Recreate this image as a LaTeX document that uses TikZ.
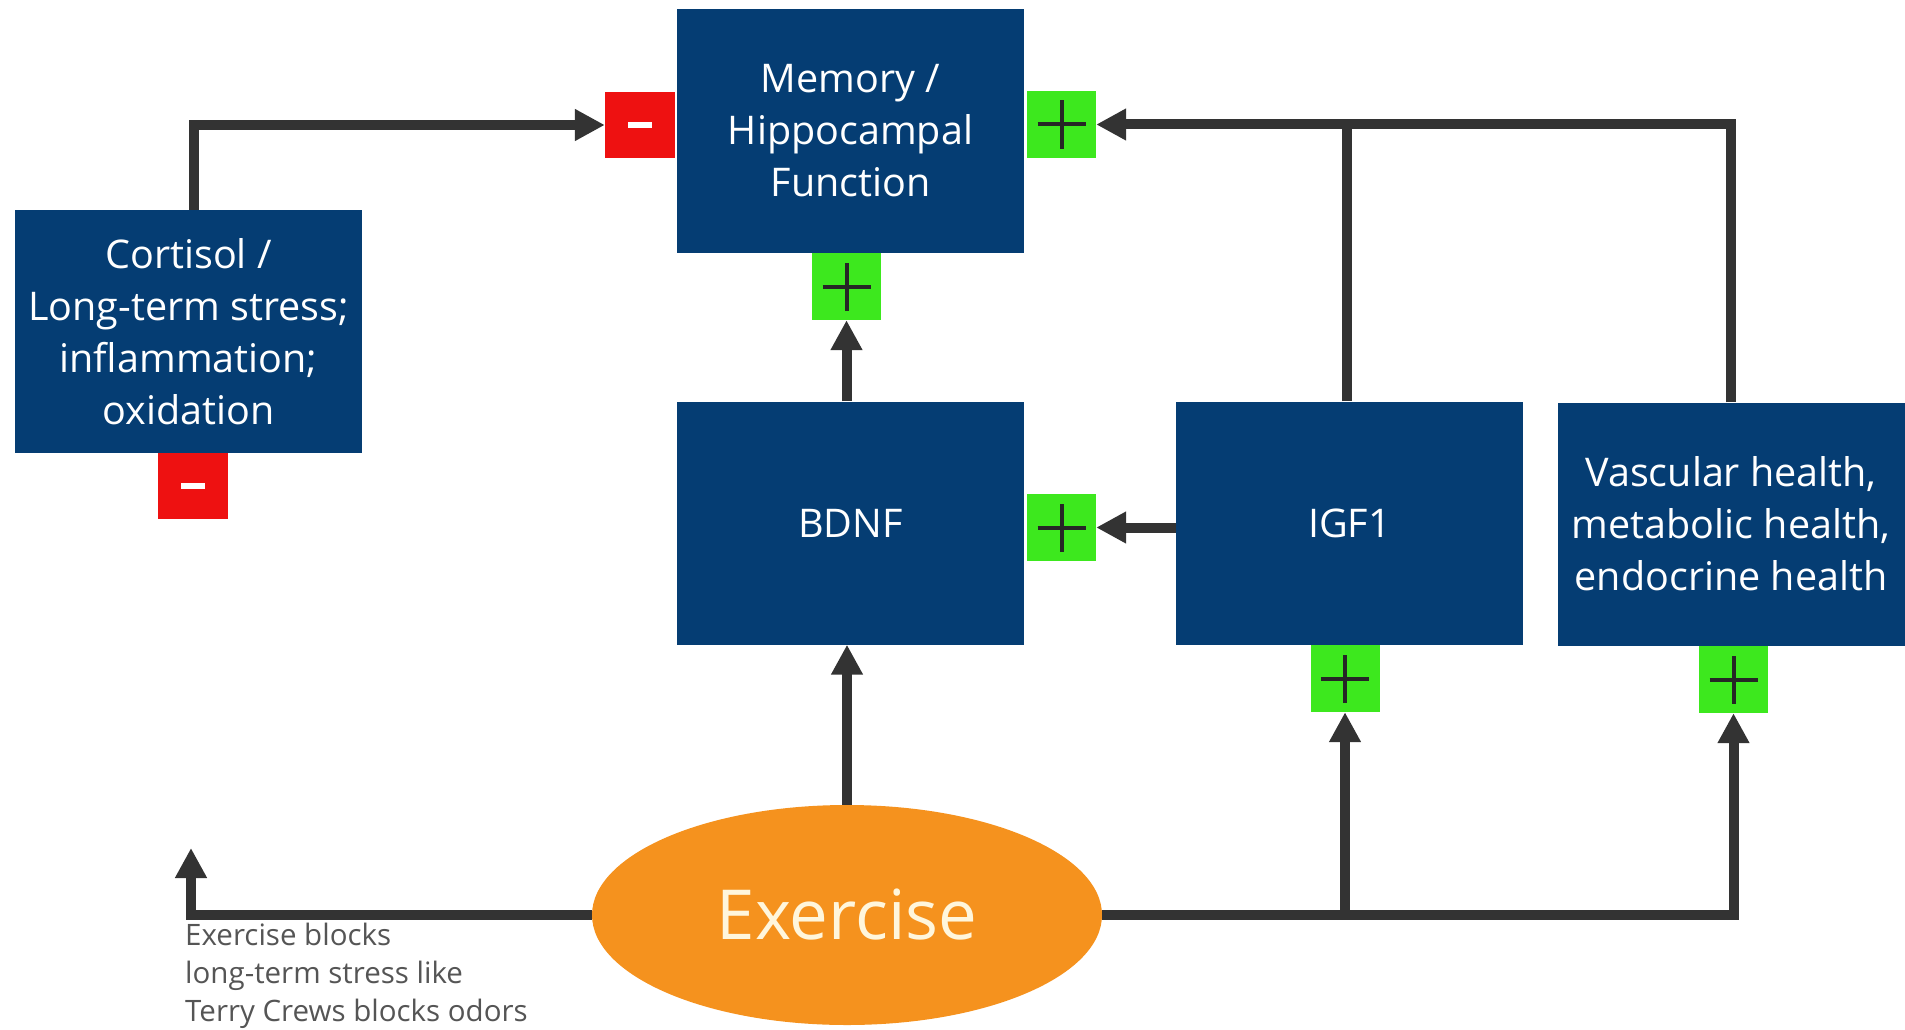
\documentclass[tikz,border=0pt]{standalone}
\usepackage{fontspec}
\setmainfont{Open Sans}
\usetikzlibrary{arrows.meta,shapes.geometric}
\definecolor{boxblue}{HTML}{053D73}
\definecolor{plusgreen}{HTML}{3DE81E}
\definecolor{minusred}{HTML}{EE1111}
\definecolor{exorange}{HTML}{F5921E}
\definecolor{excream}{HTML}{FFF6DC}
\definecolor{linkgray}{HTML}{333333}
\definecolor{notegray}{HTML}{555555}
\tikzset{
  x=1pt, y=-1pt,
  factorbox/.style={rectangle, fill=boxblue, text=white, align=center,
    minimum width=347pt, minimum height=243pt, inner sep=0pt,
    font=\fontsize{39.5}{52}\selectfont},
  plusmark/.style={rectangle, fill=plusgreen, minimum width=69pt,
    minimum height=67pt, inner sep=0pt,
    path picture={\draw[black!85, line width=4pt]
      ([yshift=-24pt]path picture bounding box.center) -- ([yshift=24pt]path picture bounding box.center)
      ([xshift=-24pt]path picture bounding box.center) -- ([xshift=24pt]path picture bounding box.center);}},
  minusmark/.style={rectangle, fill=minusred, minimum width=70pt,
    minimum height=66pt, inner sep=0pt,
    path picture={\draw[white, line width=6pt]
      ([xshift=-12pt]path picture bounding box.center) -- ([xshift=12pt]path picture bounding box.center);}},
  link/.style={draw=linkgray, line width=10pt},
  linkarrow/.style={link, -{Triangle[width=30pt,length=30pt]}},
}
\begin{document}
\begin{tikzpicture}
\useasboundingbox (0,0) rectangle (1905,1030);

% factor boxes
\node[factorbox] (mem)  at (850.5,131)  {Memory /\\Hippocampal\\Function};
\node[factorbox] (cort) at (188.5,331.5) {Cortisol /\\Long-term stress;\\inflammation;\\oxidation};
\node[factorbox] (bdnf) at (850.5,523)  {BDNF};
\node[factorbox] (igf)  at (1349.5,523) {IGF1};
\node[factorbox] (vasc) at (1731,524)   {Vascular health,\\metabolic health,\\endocrine health};

% effect markers
\node[minusmark] (mMem)  at (640,125)    {};
\node[minusmark] (mCort) at (193,486)    {};
\node[plusmark]  (pMemR) at (1061.5,124.5) {};
\node[plusmark]  (pMemB) at (846.5,286.5) {};
\node[plusmark]  (pBdnf) at (1061.5,527.5) {};
\node[plusmark]  (pIgf)  at (1345,678.5) {};
\node[plusmark]  (pVasc) at (1733.5,679.5) {};

% exercise
\node[ellipse, fill=exorange, text=excream, minimum width=510pt,
  minimum height=220pt, inner sep=0pt, font=\fontsize{69}{72}\selectfont]
  (ex) at (847,915) {Exercise};

% annotation
\node[anchor=north west, inner sep=0pt, align=left, text=notegray,
  font=\fontsize{29.5}{37.7}\selectfont] (note) at (185,923)
  {Exercise blocks\\long-term stress like\\Terry Crews blocks odors};

% junctions
\coordinate (topIgf) at (igf.north |- pMemR.east);
\coordinate (exIgf)  at (pIgf.south |- ex.east);
\coordinate (exVasc) at (pVasc.south |- ex.east);
\coordinate (stressEnd) at (191,848);

% connectors
\draw[linkarrow] ([xshift=5pt]cort.north) |- (mMem.west);
\draw[linkarrow] (vasc.north) |- (pMemR.east);
\draw[link] ([xshift=-3pt]igf.north) -- ([xshift=-3pt]topIgf);
\draw[linkarrow] (bdnf.north -| pMemB) -- (pMemB.south);
\draw[linkarrow] (igf.west |- pBdnf) -- (pBdnf.east);
\draw[linkarrow] (ex.north) -- (bdnf.south -| ex.north);
\draw[link] (ex.east) -- ([xshift=5pt]exVasc);
\draw[linkarrow] (exVasc) -- (pVasc.south);
\draw[linkarrow] (exIgf) -- (pIgf.south);
\draw[linkarrow] (ex.west) -| (stressEnd);
\end{tikzpicture}
\end{document}
